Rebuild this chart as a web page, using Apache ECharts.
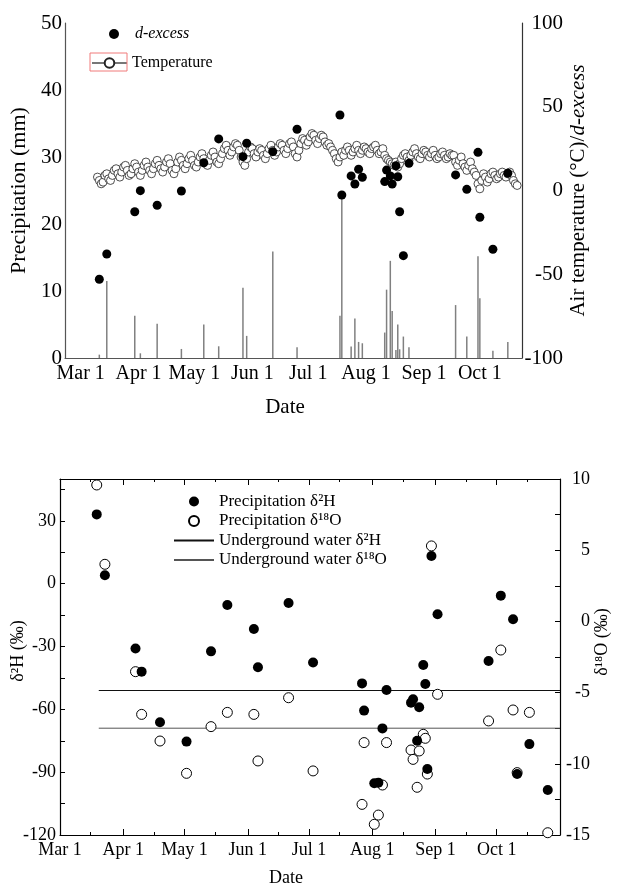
<!DOCTYPE html>
<html><head><meta charset="utf-8">
<script src="https://cdn.jsdelivr.net/npm/echarts@6/dist/echarts.min.js"></script>
<style>html,body{margin:0;padding:0;background:#fff}#c{width:617px;height:885px}</style>
</head><body><div id="c"></div>
<script>
// x values are days counted from March 1 (Mar 1 = 0)
const monthTicks = [0, 31, 61, 92, 122, 153, 184, 214];
const monthLabels = ['Mar 1', 'Apr 1', 'May 1', 'Jun 1', 'Jul 1', 'Aug 1', 'Sep 1', 'Oct 1'];
const midMonthTicks = [15, 46, 76, 107, 137, 168, 199, 229];

// ---- Top panel ----
const precipDays = [10, 14, 29, 32, 41, 54, 66, 74, 87, 89, 103, 116, 139, 140, 145, 147, 149, 151, 163, 164, 166, 167, 169, 170, 171, 173, 176, 201, 207, 213, 214, 221, 229];
const precipMm   = [0.5, 11.5, 6.3, 0.7, 5.1, 1.35, 5.0, 1.75, 10.5, 3.3, 15.9, 1.6, 6.3, 24.4, 1.7, 5.9, 2.4, 2.2, 3.8, 10.2, 14.5, 7.0, 1.2, 5.0, 1.3, 3.2, 1.6, 7.9, 3.2, 15.2, 8.9, 1.1, 2.4];

const dexDays = [10, 14, 29, 32, 41, 54, 66, 74, 87, 89, 103, 116, 139, 140, 145, 147, 149, 151, 163, 164, 166, 167, 169, 170, 171, 173, 176, 201, 207, 213, 214, 221, 229];
const dexVals = [-53, -37.9, -12.7, -0.1, -8.8, -0.3, 16.6, 30.8, 20.2, 28.2, 23.2, 36.6, 45.1, -2.7, 8.7, 3.9, 12.7, 7.9, 5.3, 12.2, 8.7, 3.9, 14.8, 8.2, -12.7, -38.9, 16.2, 9.3, 0.7, 22.8, -16, -35.1, 10.3];

const tempStartDay = 9; // daily values from day 9 to day 234
const tempVals = [
  8, 6, 4, 5, 9, 10, 7, 6,
  9, 12, 13, 10, 8, 11, 14,
  15, 12, 9, 10, 13, 16, 14,
  11, 9, 12, 15, 17, 14, 12,
  10, 13, 16, 18, 15, 13, 11,
  14, 17, 19, 16, 12, 10, 13,
  17, 20, 18, 15, 13, 16, 19,
  21, 18, 15, 14, 17, 20, 22,
  19, 16, 15, 18, 21, 23, 20,
  17, 16, 19, 22, 25, 27, 24,
  21, 23, 26, 28, 27, 24, 20,
  17, 15, 19, 23, 26, 25, 22,
  20, 23, 25, 24, 21, 19, 22,
  25, 27, 24, 21, 23, 26, 28,
  27, 24, 22, 25, 28, 29, 26,
  22, 20, 24, 28, 31, 30, 27,
  29, 32, 34, 33, 30, 28, 31,
  33, 32, 29, 27, 28, 26, 24,
  22, 19, 17, 20, 23, 21, 24,
  26, 24, 21, 23, 25, 27, 24,
  22, 24, 26, 25, 23, 22, 25,
  26, 27, 24, 22, 23, 25, 21,
  19, 18, 17, 16, 15, 17, 14,
  16, 19, 21, 22, 20, 18, 21,
  23, 25, 22, 20, 19, 22, 24,
  23, 21, 20, 22, 24, 21, 19,
  20, 22, 23, 21, 19, 20, 22,
  21, 21, 17, 15, 18, 20, 16,
  14, 12, 15, 17, 13, 11, 9,
  4, 1, 6, 10, 8, 5, 7,
  10, 11, 9, 7, 8, 10, 11,
  9, 8, 10, 11, 9, 6, 4, 3
];

// ---- Bottom panel ----
const isoDays = [18, 22, 37, 40, 49, 62, 74, 82, 95, 97, 112, 124, 148, 149, 154, 156, 158, 160, 172, 173, 175, 176, 178, 179, 180, 182, 185, 210, 216, 222, 224, 230, 239];
const d2H  = [33.1, 4.0, -30.9, -42.0, -66.2, -75.4, -32.3, -10.2, -21.6, -39.9, -9.2, -37.6, -47.6, -60.6, -95.3, -95.0, -69.1, -50.8, -56.8, -55.2, -75.0, -59.0, -38.8, -47.9, -88.5, 13.2, -14.6, -36.9, -5.7, -17.0, -90.9, -76.6, -98.5];
const d18O = [9.58, 4.01, -3.53, -6.53, -8.40, -10.67, -7.39, -6.39, -6.53, -9.80, -5.36, -10.5, -12.85, -8.51, -14.25, -13.6, -11.49, -8.51, -9.03, -9.69, -11.65, -9.10, -7.93, -8.21, -10.72, 5.30, -5.12, -6.99, -2.01, -6.22, -10.62, -6.39, -14.84];

const gwDays = [19, 245];
const gwH = -51;
const gwO = -7.5;

const FONT = "'Liberation Serif','Times New Roman',serif";
const zip = (xs, ys) => xs.map((x, i) => [x, ys[i]]);
const monthFmt = v => { const i = monthTicks.indexOf(Math.round(v)); return i >= 0 ? monthLabels[i] : ''; };

const chart = echarts.init(document.getElementById('c'), null, {renderer: 'canvas'});

const baseLabel = (size) => ({fontSize: size, fontFamily: FONT, color: '#000'});
const line = (color, show = true) => ({show: show, onZero: false, lineStyle: {color: color, width: 1.2}});

const option = {
  animation: false,
  backgroundColor: '#fff',
  grid: [
    {left: 65, right: 95, top: 23, height: 335, outerBoundsMode: 'none', containLabel: false},
    {left: 60, right: 57, top: 479, height: 356, outerBoundsMode: 'none', containLabel: false}
  ],
  graphic: [
    {type: 'rect', shape: {x: 90, y: 53, width: 37, height: 18}, style: {fill: 'none', stroke: '#f07a7a', lineWidth: 1}, z: 100}
  ],
  legend: [
    {data: ['d-excess'], left: 109, top: 26, padding: 0, itemWidth: 32, itemHeight: 10,
     textStyle: Object.assign(baseLabel(16), {fontStyle: 'italic'})},
    {data: ['Temperature'], left: 91, top: 55, padding: 0, itemWidth: 35, itemHeight: 12,
     textStyle: baseLabel(16)},
    {data: ['Precipitation δ²H', 'Precipitation δ¹⁸O',
            {name: 'Underground water δ²H', itemStyle: {opacity: 0}},
            {name: 'Underground water δ¹⁸O', itemStyle: {opacity: 0}}],
     orient: 'vertical', left: 173, top: 493, padding: 0, itemWidth: 40, itemHeight: 10, itemGap: 2.5,
     textStyle: baseLabel(17)}
  ],
  xAxis: [
    {gridIndex: 0, type: 'value', min: -8.4, max: 236.6,
     axisLine: line('#555'), axisTick: {show: false}, splitLine: {show: false},
     axisLabel: Object.assign(baseLabel(20), {customValues: monthTicks, formatter: monthFmt, margin: 6}),
     name: 'Date', nameLocation: 'middle', nameGap: 39, nameMoveOverlap: false,
     nameTextStyle: Object.assign(baseLabel(21), {padding: [0, 17, 0, 0]})},
    {gridIndex: 1, type: 'value', min: 0, max: 245, position: 'bottom',
     axisLine: line('#000'),
     axisTick: {inside: true, length: 6, customValues: monthTicks, lineStyle: {color: '#000'}},
     splitLine: {show: false},
     axisLabel: Object.assign(baseLabel(18), {customValues: monthTicks, formatter: monthFmt, margin: 6}),
     name: 'Date', nameLocation: 'middle', nameGap: 34, nameMoveOverlap: false,
     nameTextStyle: Object.assign(baseLabel(18), {padding: [0, 48, 0, 0]})},
    {gridIndex: 1, type: 'value', min: 0, max: 245, position: 'bottom',
     axisLine: line('#000', false), axisLabel: {show: false}, splitLine: {show: false},
     axisTick: {inside: true, length: 3, customValues: midMonthTicks, lineStyle: {color: '#000'}}},
    {gridIndex: 1, type: 'value', min: 0, max: 245, position: 'top',
     axisLine: line('#000'), axisLabel: {show: false}, splitLine: {show: false},
     axisTick: {inside: true, length: 6, customValues: monthTicks, lineStyle: {color: '#000'}}},
    {gridIndex: 1, type: 'value', min: 0, max: 245, position: 'top',
     axisLine: line('#000', false), axisLabel: {show: false}, splitLine: {show: false},
     axisTick: {inside: true, length: 3, customValues: midMonthTicks, lineStyle: {color: '#000'}}}
  ],
  yAxis: [
    {gridIndex: 0, type: 'value', min: 0, max: 50, interval: 10, position: 'left',
     axisLine: line('#555'), axisTick: {show: false}, splitLine: {show: false},
     axisLabel: Object.assign(baseLabel(21), {margin: 3}),
     name: 'Precipitation (mm)', nameLocation: 'middle', nameRotate: 90, nameGap: 35, nameMoveOverlap: false,
     nameTextStyle: baseLabel(22)},
    {gridIndex: 0, type: 'value', min: -100, max: 100, interval: 50, position: 'right',
     axisLine: line('#333'), axisTick: {show: false}, splitLine: {show: false},
     axisLabel: Object.assign(baseLabel(21), {margin: 41, align: 'right'}),
     name: 'Air temperature (°C)/{i|d-excess}', nameLocation: 'middle', nameRotate: 90, nameGap: 46, nameMoveOverlap: false,
     nameTextStyle: Object.assign(baseLabel(21), {rich: {i: Object.assign(baseLabel(21), {fontStyle: 'italic'})}})},
    {gridIndex: 1, type: 'value', min: -120, max: 50, interval: 15, position: 'left',
     axisLine: line('#000'),
     axisTick: {inside: true, length: 5, lineStyle: {color: '#000'}}, splitLine: {show: false},
     axisLabel: Object.assign(baseLabel(18), {margin: 4, showMaxLabel: false,
       formatter: v => (Math.abs(v % 30) < 1e-6 ? String(v) : '')}),
     name: 'δ²H (‰)', nameLocation: 'middle', nameRotate: 90, nameGap: 33, nameMoveOverlap: false,
     nameTextStyle: Object.assign(baseLabel(18), {padding: [0, 0, 0, 12]})},
    {gridIndex: 1, type: 'value', min: -15, max: 10, interval: 2.5, position: 'right',
     axisLine: line('#000'),
     axisTick: {inside: true, length: 5, lineStyle: {color: '#000'}}, splitLine: {show: false},
     axisLabel: Object.assign(baseLabel(18), {margin: 30, align: 'right',
       formatter: v => (Math.abs(v % 5) < 1e-6 ? String(v) : '')}),
     name: 'δ¹⁸O (‰)', nameLocation: 'middle', nameRotate: 90, nameGap: 33, nameMoveOverlap: false,
     nameTextStyle: Object.assign(baseLabel(18), {padding: [0, 0, 0, 30]})}
  ],
  series: [
    {name: 'Precipitation', type: 'bar', xAxisIndex: 0, yAxisIndex: 0, barWidth: 1.5,
     itemStyle: {color: '#808080'}, data: zip(precipDays, precipMm), z: 1},
    {name: 'Temperature', type: 'line', xAxisIndex: 0, yAxisIndex: 1,
     symbol: 'circle', symbolSize: 8, showAllSymbol: true,
     itemStyle: {color: '#fff', borderColor: '#222', borderWidth: 0.8, opacity: 1},
     lineStyle: {color: '#777', width: 0.8},
     data: tempVals.map((v, i) => [tempStartDay + i, v]), z: 2},
    {name: 'd-excess', type: 'scatter', xAxisIndex: 0, yAxisIndex: 1, symbolSize: 9,
     itemStyle: {color: '#000', opacity: 1}, data: zip(dexDays, dexVals), z: 3},
    {name: 'Underground water δ²H', type: 'line', xAxisIndex: 1, yAxisIndex: 2, symbol: 'none',
     lineStyle: {color: '#111', width: 1}, itemStyle: {color: '#111'},
     data: gwDays.map(d => [d, gwH]), z: 1},
    {name: 'Underground water δ¹⁸O', type: 'line', xAxisIndex: 1, yAxisIndex: 3, symbol: 'none',
     lineStyle: {color: '#555', width: 1}, itemStyle: {color: '#555'},
     data: gwDays.map(d => [d, gwO]), z: 1},
    {name: 'Precipitation δ¹⁸O', type: 'scatter', xAxisIndex: 1, yAxisIndex: 3, symbolSize: 10,
     itemStyle: {color: '#fff', borderColor: '#000', borderWidth: 1, opacity: 1},
     data: zip(isoDays, d18O), z: 2},
    {name: 'Precipitation δ²H', type: 'scatter', xAxisIndex: 1, yAxisIndex: 2, symbolSize: 10,
     itemStyle: {color: '#000', opacity: 1}, data: zip(isoDays, d2H), z: 3}
  ]
};
chart.setOption(option);
</script></body></html>
